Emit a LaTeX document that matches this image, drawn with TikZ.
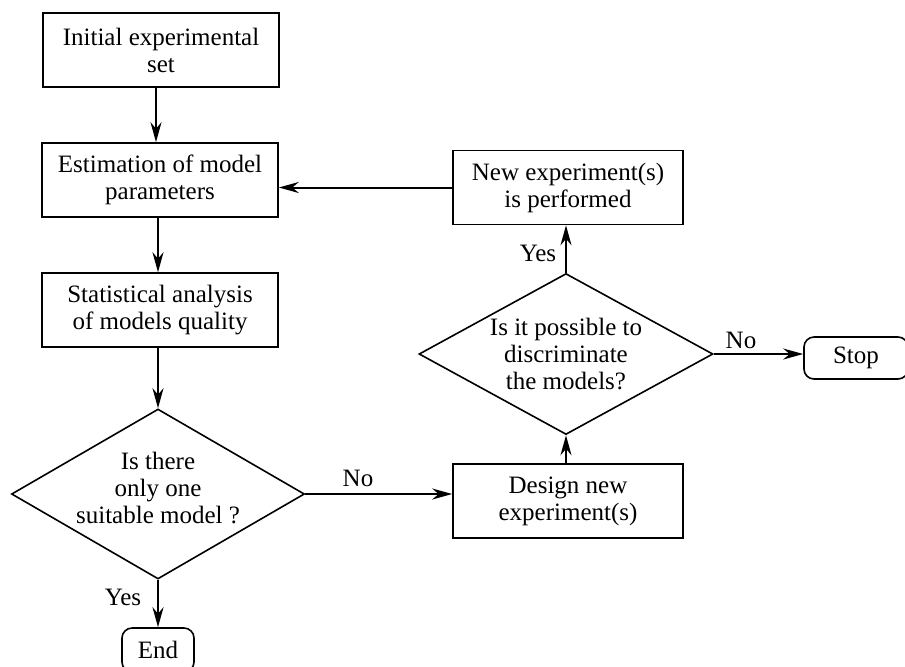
\documentclass[tikz,border=0pt]{standalone}
\usepackage{fontspec}
\setmainfont{Liberation Serif}
\newfontfamily\tnr{Liberation Serif}
\usetikzlibrary{shapes.geometric,arrows.meta}
\begin{document}
\begin{tikzpicture}[x=0.5pt,y=-0.5pt,
  every node/.style={font=\tnr\fontsize{12.5}{13.5}\selectfont},
  box/.style={draw,line width=0.8pt,align=center,inner sep=0pt},
  term/.style={draw,line width=0.8pt,rounded corners=5pt,inner sep=0pt},
  dia/.style={draw,line width=0.8pt,diamond,inner sep=0pt},
  conn/.style={line width=1pt,-{Stealth[length=10pt,width=5.5pt]}},
  lbl/.style={inner sep=0pt}]
\useasboundingbox (0,0) rectangle (905,666);
\node[box,minimum width=118pt,minimum height=37pt] (b1) at (161,50) {Initial experimental\\set};
\node[box,minimum width=118pt,minimum height=37pt] (b2) at (160,180) {Estimation of model\\parameters};
\node[box,minimum width=118pt,minimum height=37pt] (b3) at (160,310) {Statistical analysis\\of models quality};
\node[dia,minimum width=146.5pt,minimum height=85pt] (d1) at (158,494) {};
\node[align=center] (t1) at (158,488) {Is there\\only one\\suitable model ?};
\node[term,minimum width=36pt,minimum height=22pt] (end) at (158,650) {End};
\node[box,minimum width=115pt,minimum height=37pt] (ne) at (568,187.5) {New experiment(s)\\is performed};
\node[dia,minimum width=147pt,minimum height=80.5pt] (d2) at (566,354) {};
\node[align=center] (t2) at (566,354) {Is it possible to\\discriminate\\the models?};
\node[box,minimum width=115pt,minimum height=37pt] (dn) at (568,501) {Design new\\experiment(s)};
\node[term,minimum width=52pt,minimum height=21pt] (stop) at (856,358) {Stop};
\draw[conn] (b1.south -| 156,0) -- (b2.north -| 156,0);
\draw[conn] (b2.south -| 158,0) -- (b3.north -| 158,0);
\draw[conn] (d1.north |- b3.south) -- (d1.north);
\draw[conn] (d1.south) -- (end.north);
\draw[conn] (d1.east) -- (dn.west |- d1.east);
\draw[conn] (d2.south |- dn.north) -- (d2.south);
\draw[conn] (d2.north) -- (d2.north |- ne.south);
\draw[conn] (d2.east) -- (stop.west |- d2.east);
\draw[conn] (ne.west) -- (b2.east |- ne.west);
\node[lbl] (y1) at (123,597) {Yes};
\node[lbl] (n1) at (358,478) {No};
\node[lbl] (y2) at (538,253) {Yes};
\node[lbl] (n2) at (741,340) {No};
\end{tikzpicture}
\end{document}
